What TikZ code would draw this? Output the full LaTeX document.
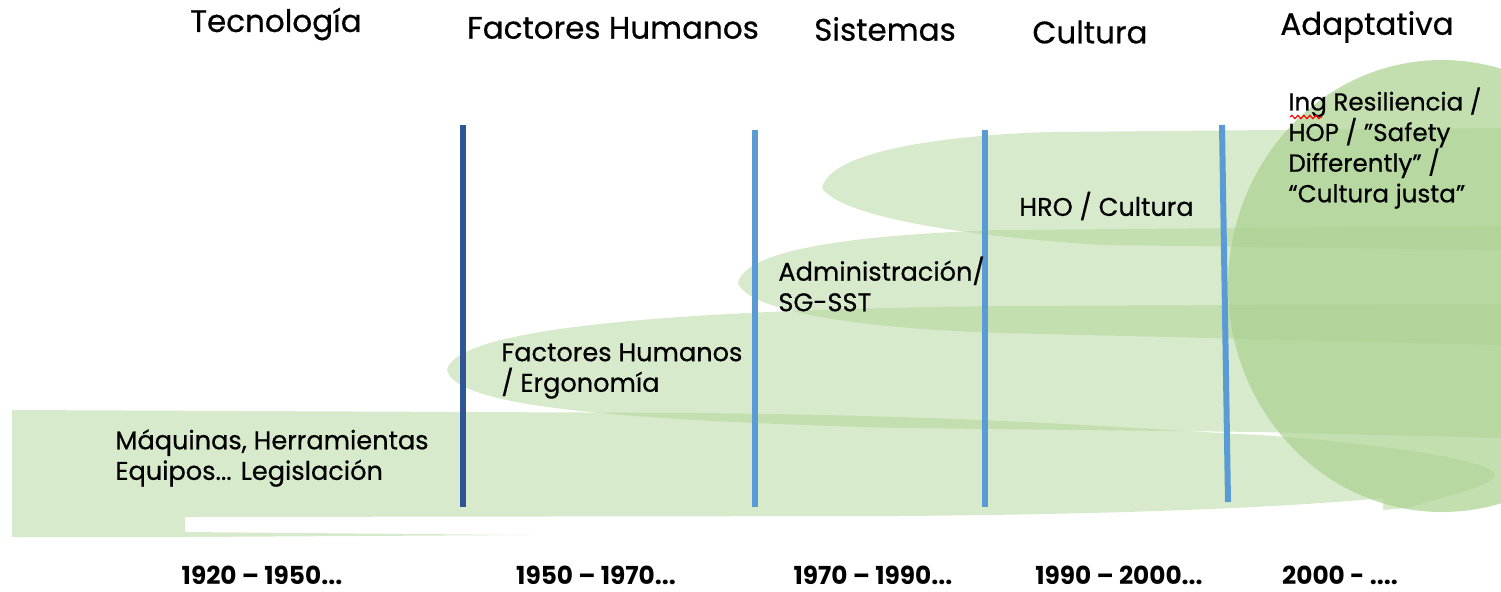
\documentclass[tikz,border=0pt]{standalone}
\usepackage{fontspec}
\setmainfont{Poppins}[UprightFeatures={FakeBold=0.6}]
\usetikzlibrary{decorations.pathmorphing}

\definecolor{bandgreen}{RGB}{169,209,142}
\definecolor{darkblue}{RGB}{47,85,151}
\definecolor{lightblue}{RGB}{91,155,213}

\tikzset{
  band/.style={fill=bandgreen, fill opacity=0.45, draw=none},
  era/.style={font=\fontsize{15.5}{18}\selectfont, inner sep=0pt},
  stage/.style={font=\fontsize{12.8}{15.3}\selectfont, align=left, anchor=west, inner sep=0pt},
  period/.style={font=\fontsize{12.4}{14}\selectfont\bfseries, inner sep=0pt},
  divider/.style={line width=3pt, color=lightblue},
}

\begin{document}
\begin{tikzpicture}[x=0.5pt, y=-0.5pt]
    \useasboundingbox (0, 0) rectangle (1501, 591);

    % bands, oldest at the bottom
    \fill [band] (12, 410) -- (12, 537) -- (185, 537) -- (185, 517) -- (900, 516)
      .. controls (1150, 514) and (1300, 506) .. (1383, 498) -- (1383, 510) -- (1407, 508)
      .. controls (1450, 495) and (1495, 485) .. (1495, 475)
      .. controls (1495, 462) and (1400, 445) .. (1260, 435)
      .. controls (1150, 430) and (1000, 416) .. (700, 413) -- cycle;
    \fill [band] (185, 532) -- (530, 535) -- (185, 537) -- cycle;
    \fill [band] (447, 370) .. controls (455, 330) and (650, 310) .. (1000, 306)
      -- (1501, 304) -- (1501, 438) -- (1260, 432) -- (900, 428)
      .. controls (600, 420) and (455, 405) .. (447, 370) -- cycle;
    \fill [band] (738, 283) .. controls (745, 250) and (850, 235) .. (1000, 230)
      -- (1501, 226) -- (1501, 345) -- (1000, 333)
      .. controls (850, 328) and (748, 310) .. (738, 283) -- cycle;
    \fill [band] (822, 188) .. controls (830, 150) and (950, 135) .. (1050, 132)
      -- (1501, 128) -- (1501, 250) -- (1100, 245)
      .. controls (950, 235) and (840, 215) .. (822, 188) -- cycle;
    \fill [band, fill opacity=0.7] (1442, 286) ellipse [x radius=214, y radius=226];

    \draw [divider, color=darkblue, line width=3.4pt] (463, 125) -- (463, 507);
    \draw [divider] (755, 130) -- (755, 507);
    \draw [divider] (985, 130) -- (985, 507);
    \draw [divider] (1222, 125) -- (1228, 502);

    \node [era] (tec) at (276, 24) {Tecnología};
    \node [era] (fh) at (613, 28) {Factores Humanos};
    \node [era] (sis) at (885, 29) {Sistemas};
    \node [era] (cul) at (1090, 32) {Cultura};
    \node [era] (ada) at (1367, 27) {Adaptativa};

    \node [stage] (maq) at (115, 458) {Máquinas, Herramientas\\Equipos... Legislación};
    \node [stage] (erg) at (501, 371) {Factores Humanos\\/ Ergonomía};
    \node [stage] (adm) at (778, 284) {Administración/\\SG-SST};
    \node [stage, font=\fontsize{12.3}{15.3}\selectfont] (res) at (1288, 148) {Ing Resiliencia /\\HOP / ”Safety\\Differently” /\\“Cultura justa”};
    \node [stage] (hro) at (1019, 206) {HRO / Cultura};
    \draw [red, line width=0.6pt, decorate, decoration={snake, amplitude=0.8pt, segment length=3pt}]
      (1290, 117) -- (1322, 117);

    \node [period] (p1) at (262, 575) {1920 – 1950...};
    \node [period] (p2) at (596, 575) {1950 – 1970...};
    \node [period] (p3) at (873, 575) {1970 – 1990...};
    \node [period] (p4) at (1119, 575) {1990 – 2000...};
    \node [period] (p5) at (1340, 575) {2000 - ....};

  \end{tikzpicture}
\end{document}
